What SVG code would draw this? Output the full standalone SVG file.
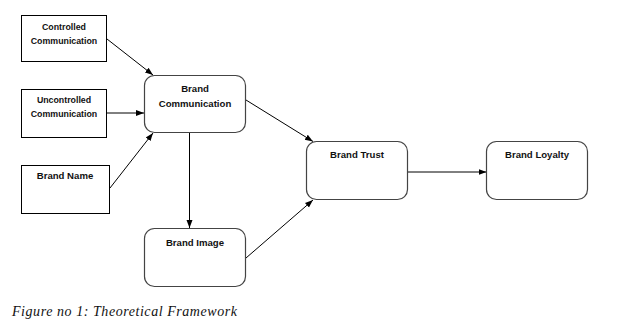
<svg xmlns="http://www.w3.org/2000/svg" width="625" height="330" viewBox="0 0 625 330">
<style>
.sq{fill:#fff;stroke:#000;stroke-width:1}
.rd{fill:#fff;stroke:#444;stroke-width:1.2}
.t{font-family:"Liberation Sans",Arial,sans-serif;font-weight:bold;fill:#111;text-anchor:middle}
.s{font-size:8.8px}
.b{font-size:9.6px}
.c{stroke:#000;stroke-width:1;fill:none;marker-end:url(#ah)}
.cap{font-family:"Liberation Serif","Times New Roman",serif;font-style:italic;font-size:14px;fill:#111}
</style>
<defs>
<marker id="ah" markerUnits="userSpaceOnUse" markerWidth="8" markerHeight="8" viewBox="0 0 8 8" refX="8" refY="4" orient="auto">
<path d="M0,1 L8,4 L0,7 Z" fill="#000"/>
</marker>
</defs>
<rect width="625" height="330" fill="#fff"/>
<g id="connectors">
<line class="c" x1="107" y1="39" x2="153" y2="75"/>
<line class="c" x1="107" y1="113" x2="144" y2="113"/>
<line class="c" x1="110" y1="188" x2="153" y2="133"/>
<line class="c" x1="246" y1="100" x2="313" y2="141.5"/>
<line class="c" x1="189.5" y1="133" x2="189.5" y2="228"/>
<line class="c" x1="246" y1="258" x2="313" y2="200"/>
<line class="c" x1="408" y1="172" x2="486.5" y2="172"/>
</g>
<g id="controlled">
<rect class="sq" x="21.5" y="15.5" width="85" height="46"/>
<text class="t s" x="64" y="29.5">Controlled</text>
<text class="t s" x="64" y="43.5">Communication</text>
</g>
<g id="uncontrolled">
<rect class="sq" x="21.5" y="89.5" width="85" height="48"/>
<text class="t s" x="64" y="102.5">Uncontrolled</text>
<text class="t s" x="64" y="116.5">Communication</text>
</g>
<g id="brandname">
<rect class="sq" x="21.5" y="165.5" width="88" height="48"/>
<text class="t b" x="65" y="178.5">Brand Name</text>
</g>
<g id="brandcomm">
<rect class="rd" x="144.5" y="75.5" width="101" height="57" rx="10"/>
<text class="t b" x="195" y="91.5">Brand</text>
<text class="t b" x="195" y="106.5">Communication</text>
</g>
<g id="brandimage">
<rect class="rd" x="144.5" y="228.5" width="101" height="58" rx="10"/>
<text class="t b" x="195" y="245.5">Brand Image</text>
</g>
<g id="brandtrust">
<rect class="rd" x="306.5" y="141.5" width="101" height="58" rx="10"/>
<text class="t b" x="357" y="157.5">Brand Trust</text>
</g>
<g id="brandloyalty">
<rect class="rd" x="486.5" y="141.5" width="101" height="58" rx="10"/>
<text class="t b" x="537" y="157.5">Brand Loyalty</text>
</g>
<text class="cap" x="12" y="316" textLength="225" lengthAdjust="spacing">Figure no 1: Theoretical Framework</text>
</svg>
